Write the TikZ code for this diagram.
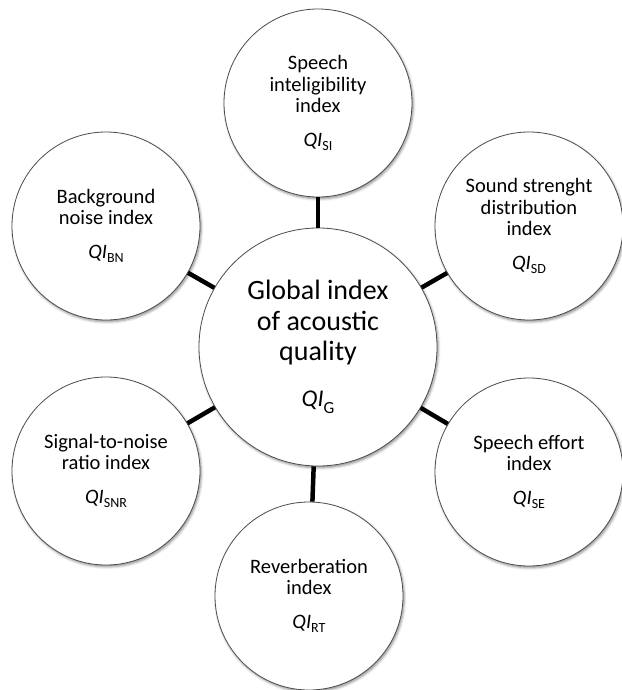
\documentclass[tikz,border=0pt]{standalone}
\usepackage{fontspec}
\setmainfont{Carlito}
\usetikzlibrary{shadows.blur}
\newcommand{\qisub}[1]{{\itshape QI}\raisebox{-4pt}{\fontsize{14}{14}\selectfont #1}}
\tikzset{
  outer/.style={circle, draw=black!70, line width=0.8pt, fill=white, minimum size=188pt, inner sep=0pt,
    align=center, font=\fontsize{20.5}{21.5}\selectfont,
    blur shadow={shadow xshift=1.2pt, shadow yshift=-1.8pt, shadow blur radius=2.5pt, shadow opacity=45}},
  centre/.style={circle, draw=black!70, line width=0.8pt, fill=white, minimum size=238pt, inner sep=0pt,
    align=center, font=\fontsize{28}{30.5}\selectfont,
    blur shadow={shadow xshift=1.2pt, shadow yshift=-1.8pt, shadow blur radius=2.5pt, shadow opacity=45}},
  conn/.style={line width=4.5pt, black}
}
\begin{document}
\begin{tikzpicture}[x=1pt,y=-1pt]
\useasboundingbox (0,0) rectangle (621,690);
\node[centre] (G) at (318,347) {Global index\\of acoustic\\quality\\[15.5pt]{\fontsize{24}{24}\selectfont\itshape QI}\raisebox{-7pt}{\fontsize{17}{17}\selectfont G}};
\node[outer] (SI) at (318,103) {Speech\\inteligibility\\index\\[12.5pt]\qisub{SI}};
\node[outer] (SD) at (529,226) {Sound strenght\\distribution\\index\\[12.5pt]\qisub{SD}};
\node[outer] (SE) at (529,472) {Speech effort\\index\\[12.5pt]\qisub{SE}};
\node[outer] (RT) at (309,596) {Reverberation\\index\\[12.5pt]\qisub{RT}};
\node[outer] (SNR) at (106,471) {Signal-to-noise\\ratio index\\[12.5pt]\qisub{SNR}};
\node[outer] (BN) at (106,226) {Background\\noise index\\[12.5pt]\qisub{BN}};
\foreach \n in {SI,SD,SE,RT,SNR,BN} {\draw[conn] (G) -- (\n);}
\end{tikzpicture}
\end{document}
